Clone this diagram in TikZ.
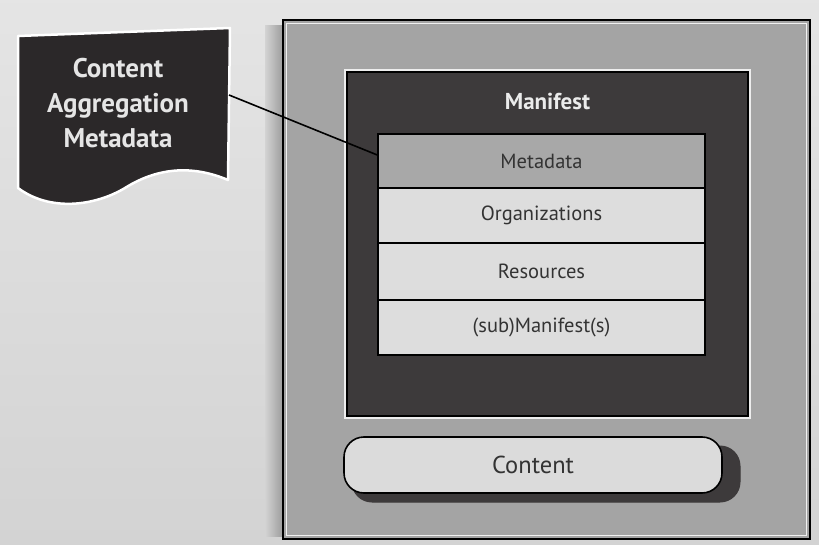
\documentclass[tikz,border=0pt]{standalone}
\usepackage{fontspec}
\setmainfont{PT Sans}
\definecolor{bg}{HTML}{D3D3D3}
\definecolor{pkg}{HTML}{A4A4A4}
\definecolor{mani}{HTML}{3D3A3B}
\definecolor{metaf}{HTML}{A8A8A8}
\definecolor{rowf}{HTML}{DDDDDD}
\definecolor{docf}{HTML}{2B2829}
\definecolor{txt}{HTML}{333333}
\tikzset{
  rowbox/.style={draw=black, line width=1.4pt, fill=rowf, minimum width=327pt, minimum height=55pt, inner sep=0pt, font=\fontsize{20.5}{24}\selectfont, text=txt},
}
\begin{document}
\begin{tikzpicture}[x=1pt,y=-1pt]
\useasboundingbox (0,0) rectangle (819,545);
\fill[top color=bg!60!white, bottom color=bg] (0,0) rectangle (819,545);
% shadow of package
\shade[left color=bg, right color=black!40] (265,26) rectangle (284,536);
% package box
\node[draw=black, line width=2pt, fill=pkg, minimum width=527pt, minimum height=519pt, inner sep=0pt] (pkg) at (546.5,279.5) {};
\draw[white!85!pkg, line width=1.2pt] (286.5,23.5) rectangle (806.5,535.5);
% manifest
\node[draw=black, line width=1.6pt, fill=mani, minimum width=401pt, minimum height=344pt, inner sep=0pt] (mani) at (547.5,244) {};
\draw[white!80!pkg, line width=1.2pt] (345,70) rectangle (750,418);
\node[text=white!92!black, font=\bfseries\fontsize{23}{26}\selectfont] (manilabel) at (547.5,101) {Manifest};
% rows
\node[rowbox, fill=metaf, minimum height=54pt] (meta) at (541.5,161) {Metadata};
\node[rowbox] (org) at (541.5,215.5) {Organizations};
\node[rowbox, minimum height=57pt] (res) at (541.5,271.5) {Resources};
\node[rowbox] (sub) at (541.5,327.5) {(sub)Manifest(s)};
% content
\draw[mani, line width=1pt, fill=mani, rounded corners=20pt] (352,446) rectangle (740,502);
\node[draw=black, line width=1.6pt, fill=rowf!105, rounded corners=20pt, minimum width=378pt, minimum height=56pt, inner sep=0pt, font=\fontsize{24.5}{28}\selectfont, text=txt] (content) at (533,465) {Content};
% document shape
\draw[white, line width=2.5pt, fill=docf, line join=round]
  (18,36) -- (230,28) -- (228,180)
  .. controls (195,166) and (160,166) .. (125,188)
  .. controls (95,206) and (50,212) .. (18,188) -- cycle;
\node[text=white!90!black, align=center, font=\bfseries\fontsize{27}{35}\selectfont] (doc) at (118,103) {Content\\Aggregation\\Metadata};
\coordinate (docr) at (229,95);
\draw[black, line width=1.6pt] (docr) -- ([yshift=6pt]meta.west);
\end{tikzpicture}
\end{document}
